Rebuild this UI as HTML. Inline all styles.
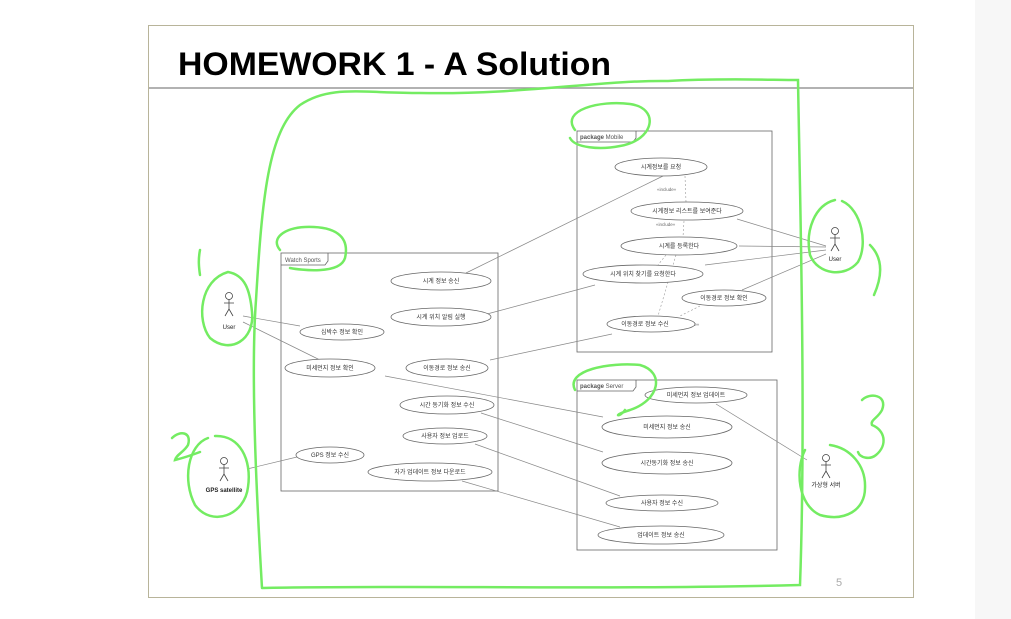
<!DOCTYPE html>
<html><head><meta charset="utf-8"><style>
html,body{margin:0;padding:0;background:#fff;}
svg{display:block;}
text{font-family:"Liberation Sans","Noto Sans CJK KR",sans-serif;}
</style></head><body>
<svg width="1011" height="619" viewBox="0 0 1011 619" xmlns="http://www.w3.org/2000/svg">
<rect x="0" y="0" width="1011" height="619" fill="#fff"/>
<rect x="975" y="0" width="36" height="619" fill="#f7f7f7"/>
<rect x="148.5" y="25.5" width="765" height="572" fill="#fff" stroke="#b8b49a" stroke-width="1"/>
<line x1="149" y1="88" x2="913" y2="88" stroke="#999" stroke-width="1.5"/>
<text x="178" y="75" font-size="32" font-weight="bold" fill="#000" textLength="433" lengthAdjust="spacingAndGlyphs">HOMEWORK 1 - A Solution</text>
<text x="836" y="586" font-size="11" fill="#aaa">5</text>

<g fill="none" stroke="#666" stroke-width="0.8">
<rect x="281" y="253" width="217" height="238"/>
<path d="M281 265 H325 L328 261 V253"/>
<rect x="577" y="131" width="195" height="221"/>
<path d="M577 142 H633 L636 138 V131"/>
<rect x="577" y="380" width="200" height="170"/>
<path d="M577 391 H633 L636 387 V380"/>
</g>
<g font-size="6" fill="#555">
<text x="285" y="262">Watch Sports</text>
<text x="580" y="139"><tspan font-weight="bold">package</tspan> Mobile</text>
<text x="580" y="388"><tspan font-weight="bold">package</tspan> Server</text>
</g>

<g stroke="#888" stroke-width="0.7" fill="none">
<line x1="466" y1="273" x2="663" y2="176"/>
<line x1="487" y1="314" x2="595" y2="285"/>
<line x1="490" y1="360" x2="612" y2="334"/>
<line x1="385" y1="376" x2="603" y2="417"/>
<line x1="481" y1="413" x2="603" y2="452"/>
<line x1="475" y1="444" x2="620" y2="496"/>
<line x1="462" y1="481" x2="620" y2="527"/>
<line x1="243" y1="316" x2="300" y2="326"/>
<line x1="243" y1="322" x2="320" y2="360"/>
<line x1="247" y1="469" x2="297" y2="457"/>
<line x1="737" y1="219" x2="826" y2="246"/>
<line x1="739" y1="246" x2="826" y2="247"/>
<line x1="705" y1="265" x2="826" y2="250"/>
<line x1="742" y1="290" x2="826" y2="254"/>
<line x1="716" y1="404" x2="807" y2="460"/>
</g>
<g stroke="#999" stroke-width="0.6" fill="none" stroke-dasharray="2,2">
<line x1="685" y1="176" x2="686" y2="202"/>
<line x1="684" y1="221" x2="683" y2="237"/>
<line x1="666" y1="255" x2="658" y2="265"/>
<line x1="676" y1="255" x2="658" y2="316"/>
<line x1="700" y1="306" x2="680" y2="316"/>
</g>
<g font-size="4.5" fill="#666">
<text x="657" y="191">«include»</text>
<text x="656" y="226">«include»</text>
<text x="641" y="249">«include»</text>
<text x="651" y="282">«include»</text>
<text x="680" y="326">«include»</text>
</g>

<g fill="#fff" stroke="#666" stroke-width="0.8">
<ellipse cx="661" cy="167" rx="46" ry="9"/>
<ellipse cx="687" cy="211" rx="56" ry="9"/>
<ellipse cx="679" cy="246" rx="58" ry="9"/>
<ellipse cx="643" cy="274" rx="60" ry="9"/>
<ellipse cx="724" cy="298" rx="42" ry="8"/>
<ellipse cx="651" cy="324" rx="44" ry="8"/>
<ellipse cx="441" cy="281" rx="50" ry="9"/>
<ellipse cx="441" cy="317" rx="50" ry="9"/>
<ellipse cx="342" cy="332" rx="42" ry="8"/>
<ellipse cx="330" cy="368" rx="45" ry="9"/>
<ellipse cx="447" cy="368" rx="41" ry="9"/>
<ellipse cx="447" cy="405" rx="47" ry="9"/>
<ellipse cx="445" cy="436" rx="42" ry="8"/>
<ellipse cx="430" cy="472" rx="62" ry="9"/>
<ellipse cx="330" cy="455" rx="34" ry="8"/>
<ellipse cx="696" cy="395" rx="51" ry="8"/>
<ellipse cx="667" cy="427" rx="65" ry="11"/>
<ellipse cx="667" cy="463" rx="65" ry="11"/>
<ellipse cx="662" cy="503" rx="56" ry="8"/>
<ellipse cx="661" cy="535" rx="63" ry="9"/>
</g>
<g font-size="6" fill="#333" text-anchor="middle">
<text x="661" y="169">시계정보를 요청</text>
<text x="687" y="213">시계정보 리스트를 보여준다</text>
<text x="679" y="248">시계를 등록한다</text>
<text x="643" y="276">시계 위치 찾기를 요청한다</text>
<text x="724" y="300">이동경로 정보 확인</text>
<text x="645" y="326">이동경로 정보 수신</text>
<text x="441" y="283">시계 정보 송신</text>
<text x="441" y="319">시계 위치 알림 실행</text>
<text x="342" y="334">심박수 정보 확인</text>
<text x="330" y="370">미세먼지 정보 확인</text>
<text x="447" y="370">이동경로 정보 송신</text>
<text x="447" y="407">시간 동기화 정보 수신</text>
<text x="445" y="438">사용자 정보 업로드</text>
<text x="430" y="474">자가 업데이트 정보 다운로드</text>
<text x="330" y="457">GPS 정보 수신</text>
<text x="696" y="397">미세먼지 정보 업데이트</text>
<text x="667" y="429">미세먼지 정보 송신</text>
<text x="667" y="465">시간동기화 정보 송신</text>
<text x="662" y="505">사용자 정보 수신</text>
<text x="661" y="537">업데이트 정보 송신</text>
</g>

<g stroke="#444" stroke-width="0.8" fill="#fff">
<g transform="translate(229,296)"><circle cx="0" cy="0" r="3.5"/><path d="M0 3.5V13M-5 7H5M0 13L-4 20M0 13L4 20" fill="none"/></g>
<g transform="translate(224,461)"><circle cx="0" cy="0" r="3.5"/><path d="M0 3.5V13M-5 7H5M0 13L-4 20M0 13L4 20" fill="none"/></g>
<g transform="translate(835,231)"><circle cx="0" cy="0" r="3.5"/><path d="M0 3.5V13M-5 7H5M0 13L-4 20M0 13L4 20" fill="none"/></g>
<g transform="translate(826,458)"><circle cx="0" cy="0" r="3.5"/><path d="M0 3.5V13M-5 7H5M0 13L-4 20M0 13L4 20" fill="none"/></g>
</g>
<g font-size="6" fill="#222" text-anchor="middle">
<text x="229" y="329">User</text>
<text x="224" y="492" font-weight="bold">GPS satellite</text>
<text x="835" y="261">User</text>
<text x="826" y="487">가상형 서버</text>
</g>

<g fill="none" stroke="#74ec62" stroke-width="2.5" stroke-linecap="round">
<path d="M262 588 C258 520 250 380 256 300 C262 200 268 130 300 105 C330 85 360 93 420 93 C520 95 600 80 668 81 C720 78 770 80 798 80 C800 200 806 420 800 585 C600 590 420 585 262 588"/>
<path d="M280 250 C270 238 285 228 305 227 C335 226 350 236 345 258 C340 275 300 270 290 268"/>
<path d="M575 130 C560 110 600 100 630 104 C660 108 655 140 620 146 C600 150 575 148 570 138"/>
<path d="M575 390 C565 370 610 362 640 365 C665 372 660 400 630 410 C610 416 620 418 625 410"/>
<path d="M228 272 C200 280 196 320 210 338 C230 355 255 340 252 312 C250 290 245 275 228 272"/>
<path d="M200 250 C198 260 199 268 200 275"/>
<path d="M208 438 C188 445 182 480 195 505 C212 528 245 515 248 487 C252 460 240 435 215 436"/>
<path d="M172 438 C180 430 192 432 188 445 C184 452 176 455 175 460 C183 458 192 455 200 452"/>
<path d="M835 200 C815 205 805 230 810 255 C818 275 845 278 858 262 C868 245 862 210 842 201"/>
<path d="M870 245 C880 255 885 270 874 295"/>
<path d="M805 450 C795 470 798 505 820 515 C845 522 865 510 865 488 C866 465 850 448 830 445"/>
<path d="M862 400 C870 392 888 395 882 410 C878 418 870 420 872 425 C885 430 888 445 876 455 C870 460 860 458 858 452"/>
</g>
</svg>
</body></html>
